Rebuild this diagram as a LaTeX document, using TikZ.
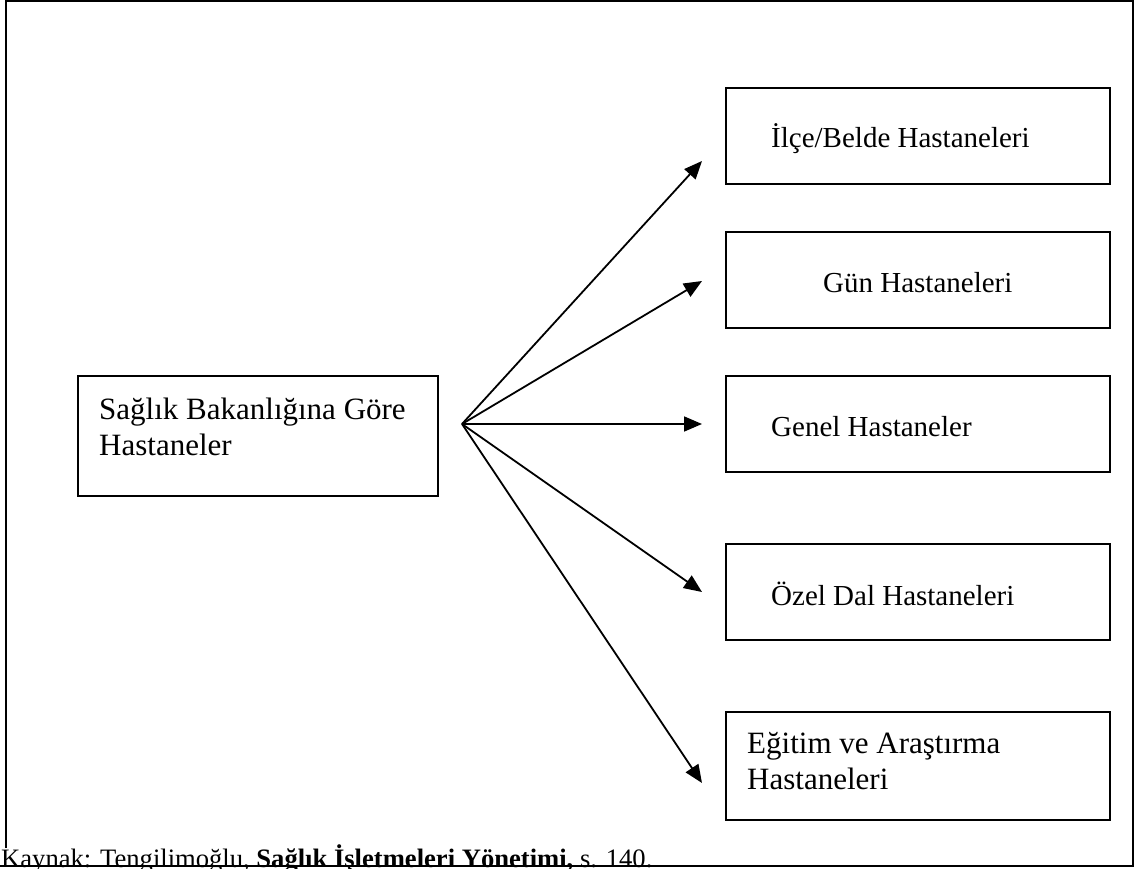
\documentclass[tikz,border=0pt]{standalone}
\usepackage{fontspec}
\setmainfont{Liberation Serif}
\usetikzlibrary{arrows.meta}
\tikzset{
  box/.style={draw, line width=1.6pt, inner sep=0pt, outer sep=0pt, anchor=north west},
  lbl/.style={inner sep=0pt, anchor=base west, font=\fontsize{29}{33}\selectfont},
  lblbig/.style={inner sep=0pt, anchor=west, align=left, font=\fontsize{31}{36}\selectfont},
  link/.style={line width=1.8pt, -{Triangle[length=18pt,width=15pt]}},
  frame/.style={line width=2pt}
}
\begin{document}
\begin{tikzpicture}[x=1pt,y=-1pt]
\useasboundingbox (0,0) rectangle (1135,869);

% source box
\node[box, minimum width=360pt, minimum height=120pt] (src) at (78,376) {};
\node[lblbig] (srcText) at (99,427) {Sağlık Bakanlığına Göre\\Hastaneler};

% hospital type boxes
\node[box, minimum width=384pt, minimum height=96pt] (t1) at (726,88) {};
\node[box, minimum width=384pt, minimum height=96pt] (t2) at (726,232) {};
\node[box, minimum width=384pt, minimum height=96pt] (t3) at (726,376) {};
\node[box, minimum width=384pt, minimum height=96pt] (t4) at (726,544) {};
\node[box, minimum width=384pt, minimum height=108pt] (t5) at (726,712) {};

\node[lbl] (t1Text) at (771,148) {İlçe/Belde Hastaneleri};
\node[lbl] (t2Text) at (823,292) {Gün Hastaneleri};
\node[lbl] (t3Text) at (771,436) {Genel Hastaneler};
\node[lbl] (t4Text) at (771,605) {Özel Dal Hastaneleri};
\node[lblbig] (t5Text) at (747,761) {Eğitim ve Araştırma\\Hastaneleri};

% fan of arrows
\coordinate (hub) at (462,424);
\coordinate (tip1) at (702,161);
\coordinate (tip2) at (702,281);
\coordinate (tip3) at (702,424);
\coordinate (tip4) at (702,592);
\coordinate (tip5) at (702,783);
\foreach \k in {1,...,5} \draw[link] (hub) -- (tip\k);

% source note
\node[inner sep=0pt, anchor=base west, font=\fontsize{26.6}{30}\selectfont] (note) at (1,867)
  {Kaynak: Tengilimoğlu, \textbf{Sağlık İşletmeleri Yönetimi,} s. 140.};

% outer frame
\draw[frame] (6,848) -- (6,1) -- (1133,1) -- (1133,866) -- (0,866);
\end{tikzpicture}
\end{document}
